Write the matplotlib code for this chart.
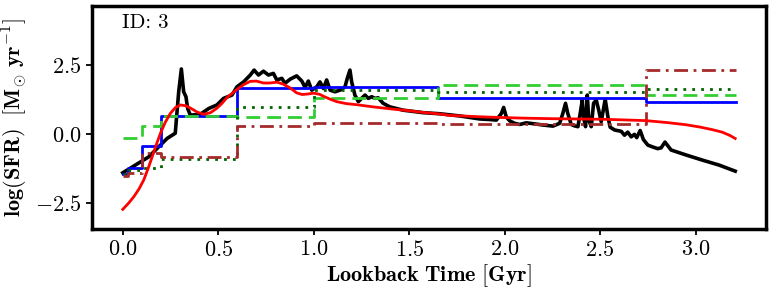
import numpy as np
import matplotlib
matplotlib.use("Agg")
import matplotlib.pyplot as plt

plt.rcParams['font.family'] = 'serif'
plt.rcParams['font.serif'] = ['cmr10', 'DejaVu Serif']
plt.rcParams['mathtext.fontset'] = 'cm'
plt.rcParams['axes.formatter.use_mathtext'] = True

# true SFH (black)
t_true = [0.0, 0.136, 0.232, 0.275, 0.293, 0.307, 0.319, 0.331, 0.34, 0.354, 0.406, 0.45, 0.493,
          0.528, 0.572, 0.598, 0.633, 0.668, 0.688, 0.711, 0.737, 0.763, 0.789, 0.807, 0.833,
          0.85, 0.877, 0.911, 0.938, 0.955, 0.972, 0.99, 1.016, 1.033, 1.051, 1.068, 1.086,
          1.112, 1.138, 1.164, 1.176, 1.19, 1.199, 1.216, 1.234, 1.251, 1.269, 1.286, 1.304,
          1.321, 1.338, 1.364, 1.399, 1.469, 1.573, 1.661, 1.765, 1.87, 1.922, 1.957, 1.983,
          1.995, 2.009, 2.027, 2.053, 2.079, 2.114, 2.148, 2.201, 2.253, 2.288, 2.305, 2.319,
          2.331, 2.349, 2.366, 2.384, 2.396, 2.407, 2.413, 2.424, 2.433, 2.441, 2.454, 2.466,
          2.48, 2.493, 2.506, 2.527, 2.541, 2.553, 2.576, 2.611, 2.628, 2.645, 2.663, 2.68,
          2.692, 2.71, 2.727, 2.75, 2.776, 2.802, 2.82, 2.84, 2.872, 2.95, 3.037, 3.124, 3.208]
sfr_true = [-1.41, -0.83, -0.16, 0.03, 1.54, 2.37, 1.54, 1.36, 0.93, 0.69, 0.72, 0.93, 1.06,
            1.30, 1.42, 1.72, 1.90, 2.15, 2.33, 2.15, 2.29, 2.15, 2.21, 1.97, 2.03,
            1.85, 2.00, 2.12, 1.93, 1.70, 1.93, 1.60, 1.72, 1.90, 1.66, 1.97, 1.60,
            1.54, 1.60, 1.72, 2.03, 2.33, 1.90, 1.42, 1.18, 1.30, 1.42, 1.30, 1.36,
            1.30, 1.32, 1.12, 0.99, 0.87, 0.78, 0.74, 0.66, 0.55, 0.53, 0.51, 0.75,
            0.97, 0.62, 0.48, 0.39, 0.35, 0.41, 0.38, 0.33, 0.29, 0.39, 0.75, 1.12,
            0.75, 0.35, 0.30, 0.27, 0.75, 1.24, 0.63, 0.27, 1.42, 0.51, 0.27, 1.12,
            1.24, 0.87, 0.45, 1.27, 0.63, 0.25, 0.15, 0.10, -0.04, 0.07, -0.10, -0.01,
            -0.13, 0.13, -0.20, -0.40, -0.47, -0.53, -0.50, -0.29, -0.58, -0.76, -0.95, -1.13, -1.35]

# smooth model (red)
t_smooth = [0.0, 0.03, 0.058, 0.085, 0.11, 0.133, 0.154, 0.175, 0.197, 0.222, 0.249, 0.275,
            0.302, 0.33, 0.354, 0.39, 0.424, 0.46, 0.493, 0.52, 0.546, 0.59, 0.633, 0.668,
            0.70, 0.737, 0.77, 0.807, 0.84, 0.877, 0.911, 0.94, 0.97, 1.0, 1.03, 1.06, 1.09,
            1.121, 1.17, 1.225, 1.312, 1.4, 1.487, 1.573, 1.661, 1.713, 1.905, 2.1, 2.253,
            2.514, 2.741, 2.85, 2.95, 3.02, 3.089, 3.14, 3.18, 3.208]
sfr_smooth = [-2.74, -2.52, -2.28, -2.0, -1.67, -1.25, -0.83, -0.40, 0.02, 0.42, 0.75, 0.96,
              1.06, 1.03, 0.95, 0.80, 0.72, 0.78, 0.94, 1.12, 1.33, 1.58, 1.80, 1.92,
              1.93, 1.86, 1.86, 1.89, 1.82, 1.68, 1.50, 1.44, 1.46, 1.49, 1.45, 1.35, 1.26,
              1.18, 1.11, 1.07, 0.99, 0.92, 0.86, 0.79, 0.73, 0.68, 0.62, 0.58, 0.56,
              0.54, 0.49, 0.42, 0.34, 0.26, 0.16, 0.07, -0.05, -0.16]

# binned SFHs
bin_edges = [0.0, 0.03, 0.1, 0.2, 0.6, 1.0, 1.65, 2.74, 3.21]
sfr_blue = [-1.45, -1.22, -0.42, 0.67, 1.66, 1.70, 1.32, 1.15]
sfr_dashed = [-0.15, -0.15, 0.31, 0.65, 0.61, 1.32, 1.79, 1.41]
sfr_dotted = [-1.45, -1.30, -1.25, -0.91, 0.97, 1.62, 1.52, 1.63]
sfr_dashdot = [-1.52, -1.40, -0.69, -0.84, 0.30, 0.39, 0.37, 2.33]

fig = plt.figure(figsize=(7.74, 2.9), dpi=100)
ax = fig.add_axes([0.119, 0.209, 0.871, 0.770])

def step(vals, **kw):
    ax.plot(bin_edges, list(vals) + [vals[-1]], drawstyle='steps-post', **kw)

ax.plot(t_true, sfr_true, color='black', lw=2.6, zorder=3)
step(sfr_blue, color='blue', lw=2.0, zorder=4)
step(sfr_dashed, color='limegreen', lw=2.0, dashes=(5, 2.5), zorder=4)
step(sfr_dotted, color='darkgreen', lw=2.0, dashes=(1, 2.2), zorder=4)
step(sfr_dashdot, color='brown', lw=2.0, dashes=(5, 2, 1, 2), zorder=4)
ax.plot(t_smooth, sfr_smooth, color='red', lw=2.0, zorder=5)

ax.set_ylim(-3.47, 4.66)
ax.set_xticks([0.0, 0.5, 1.0, 1.5, 2.0, 2.5, 3.0])
ax.set_yticks([-2.5, 0.0, 2.5])
ax.tick_params(direction='out', length=4, width=1.3, labelsize=16)
for s in ax.spines.values():
    s.set_linewidth(2.5)

ax.set_xlabel(r'$\mathbf{Lookback\ Time\ [Gyr]}$', fontsize=16, labelpad=2)
ax.set_ylabel(r'$\mathbf{log(SFR)\ \ [M_{\odot}\ yr^{-1}]}$', fontsize=16, labelpad=4)
ax.text(0.045, 0.925, 'ID: 3', transform=ax.transAxes, fontsize=15, va='center', ha='left')

fig.savefig('out.png', dpi=100)
